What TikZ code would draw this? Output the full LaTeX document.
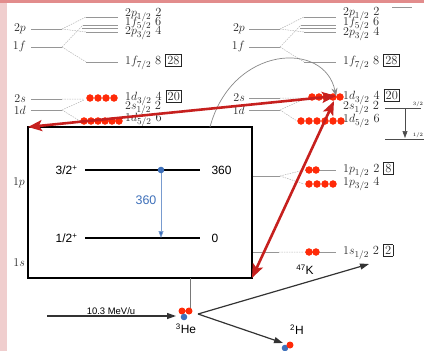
\documentclass[tikz,border=0pt]{standalone}
\usepackage{fontspec}
\setsansfont{Liberation Sans}
\usepackage{tkz-euclide}
\usetikzlibrary{arrows.meta}
\definecolor{pinkframe}{RGB}{240,206,206}
\definecolor{topframe}{RGB}{226,140,140}
\definecolor{protonred}{RGB}{255,42,8}
\definecolor{arrowred}{RGB}{198,32,30}
\definecolor{neutronblue}{RGB}{62,112,186}
\definecolor{levelgray}{RGB}{150,150,150}
\setlength\fboxsep{1.5pt}
\setlength\fboxrule{.5pt}

\begin{document}
\begin{tikzpicture}[x=1bp,y=-1bp,
		lvl/.style={levelgray,line width=.8pt},
		spl/.style={levelgray!70,dash pattern=on 1.5pt off 1pt,line width=.5pt},
		shl/.style={font=\fontsize{12.5}{12}\selectfont,text=black!85,inner sep=0pt},
		big/.style={arrowred,line width=2.6pt,{Stealth[length=14pt,width=11pt,inset=3pt]}-{Stealth[length=14pt,width=11pt,inset=3pt]}},
		rct/.style={black!80,line width=1.2pt,-{Triangle[length=9pt,width=6pt]}}]
	\useasboundingbox (0,0) rectangle (424,351);
	\fill[pinkframe] (0,0) rectangle (7,351);
	\fill[topframe] (0,0) rectangle (424,3);
	
	% left shell scheme
		\node[shl,anchor=east] (n2pL) at (26,29) {$2p$};
		\node[shl,anchor=east] (n1fL) at (26,47) {$1f$};
		\node[shl,anchor=east] (n2sL) at (26,99) {$2s$};
		\node[shl,anchor=east] (n1dL) at (26,110) {$1d$};
		\draw[lvl] (31,29) -- (62,29) (31,47) -- (62,47) (31,99) -- (62,99) (31,110) -- (62,110);
		\draw[spl] (62,29) -- (86,17) (62,29) -- (86,32) (62,47) -- (83,25) (62,47) -- (86,62)
			(62,99) -- (84,99) (62,110) -- (84,100) (62,110) -- (80,121);
		\draw[lvl] (86,17) -- (118,17) (83,25) -- (118,25) (82,28) -- (118,28) (86,32) -- (118,32) (86,62) -- (118,62);
		\node[shl,anchor=west] (p12L) at (125,15) {$2p_{1/2}$ 2};
		\node[shl,anchor=west] (f52L) at (125,24) {$1f_{5/2}$ 6};
		\node[shl,anchor=west] (p32L) at (125,33) {$2p_{3/2}$ 4};
		\node[shl,anchor=west] (f72L) at (125,62) {$1f_{7/2}$ 8 \fbox{28}};
		\node[shl,anchor=west] (d32L) at (125,98) {$1d_{3/2}$ 4 \fbox{20}};
		\node[shl,anchor=west] (s12L) at (125,108) {$2s_{1/2}$ 2};
		\node[shl,anchor=west] (d52L) at (125,120) {$1d_{5/2}$ 6};
		\tkzDefPoints{90/98/a1,98/98/a2,106/98/a3,114/98/a4}
		\tkzDefPoints{84/121/b1,91/121/b2,98/121/b3,105/121/b4,112/121/b5,119/121/b6}
	%	\tkzDrawPoints[color=black,size=2pt](a1,b1)
		\tkzDrawPoints[color=protonred,fill=protonred,size=7pt](a1,a2,a3,a4,b1,b2,b3,b4,b5,b6)
	
	% the box with the 47K levels
		\tkzDefPoints{28/127/B1,252/127/B2,252/278/B3,28/278/B4}
		\tkzFillPolygon[draw=black,fill=white,line width=2.2pt](B1,B2,B3,B4)
		\node[shl,anchor=east] (n1pL) at (25,183) {$1p$};
		\node[shl,anchor=east] (n1sL) at (25,263) {$1s$};
		\node[font=\sffamily\fontsize{12}{12}\selectfont,anchor=east] (j32) at (81,170) {3/2\textsuperscript{+}};
		\node[font=\sffamily\fontsize{12}{12}\selectfont,anchor=east] (j12) at (81,238) {1/2\textsuperscript{+}};
		\node[font=\sffamily\fontsize{12}{12}\selectfont,anchor=west] (e360) at (208,170) {360};
		\node[font=\sffamily\fontsize{12}{12}\selectfont,anchor=west] (e0) at (208,238) {0};
		\draw[black,line width=2pt] (j32.east) ++(4,0) -- (200,170);
		\draw[black,line width=2pt] (j12.east) ++(4,0) -- (200,238);
		\tkzDefPoints{161/170/G1,161/238/G0}
		\draw[neutronblue!70,line width=.6pt,-{Triangle[length=7pt,width=5pt,fill=neutronblue]}] (G1) -- (G0);
		\fill[neutronblue] (G1) circle (3.3);
		\node[font=\sffamily\fontsize{12.5}{12}\selectfont,text=neutronblue] (g360) at (146,200) {360};
	
	% right shell scheme
		\node[shl,anchor=east] (n2pR) at (245,29) {$2p$};
		\node[shl,anchor=east] (n1fR) at (245,47) {$1f$};
		\node[shl,anchor=east] (n2sR) at (245,98) {$2s$};
		\node[shl,anchor=east] (n1dR) at (245,110) {$1d$};
		\draw[lvl] (249,29) -- (280,29) (249,47) -- (280,47) (249,98) -- (280,98) (249,110) -- (280,110)
			(253,176) -- (280,176) (253,252) -- (279,252);
		\draw[spl] (280,29) -- (304,17) (280,29) -- (304,32) (280,47) -- (301,25) (280,47) -- (304,62)
			(280,98) -- (303,98) (280,110) -- (302,100) (280,110) -- (297,121)
			(280,176) -- (304,170) (280,176) -- (304,184) (279,252) -- (304,252);
		\draw[lvl] (304,17) -- (336,17) (301,25) -- (336,25) (300,28) -- (336,28) (304,32) -- (336,32) (304,62) -- (336,62)
			(305,170) -- (336,170) (305,252) -- (336,252) (392,7) -- (412,7);
		\node[shl,anchor=west] (p12R) at (343,14) {$2p_{1/2}$ 2};
		\node[shl,anchor=west] (f52R) at (343,24) {$1f_{5/2}$ 6};
		\node[shl,anchor=west] (p32R) at (343,34) {$2p_{3/2}$ 4};
		\node[shl,anchor=west] (f72R) at (343,62) {$1f_{7/2}$ 8 \fbox{28}};
		\node[shl,anchor=west] (d32R) at (343,97) {$1d_{3/2}$ 4 \fbox{20}};
		\node[shl,anchor=west] (s12R) at (343,108) {$2s_{1/2}$ 2};
		\node[shl,anchor=west] (d52R) at (343,121) {$1d_{5/2}$ 6};
		\node[shl,anchor=west] (q12R) at (343,170) {$1p_{1/2}$ 2 \fbox{8}};
		\node[shl,anchor=west] (q32R) at (343,184) {$1p_{3/2}$ 4};
		\node[shl,anchor=west] (r12R) at (343,252) {$1s_{1/2}$ 2 \fbox{2}};
		\tkzDefPoints{312/97/c1,319/97/c2,326/97/c3,333/97/c4,340/97/c5}
		\tkzDefPoints{301/121/e1,309/121/e2,317/121/e3,325/121/e4,333/121/e5,341/121/e6}
		\tkzDefPoints{309/170/f1,316/170/f2,309/184/g1,317/184/g2,325/184/g3,333/184/g4,309/252/h1,316/252/h2}
	%	\tkzDrawPoints[color=black,size=2pt](c5)
		\tkzDrawPoints[color=protonred,fill=protonred,size=7pt](c1,c2,c3,c4,c5,e1,e2,e3,e4,e5,e6,f1,f2,g1,g2,g3,g4,h1,h2)
	
	% 3/2 -> 1/2 on the right
		\tkzDefPoints{405/108/S3,405/138/S1}
		\draw[black!70,line width=.6pt] (385,108) -- (421,108) (385,139) -- (424,139);
		\draw[black!70,line width=.6pt,-{Triangle[length=7pt,width=5pt]}] (S3) -- (S1);
		\node[font=\fontsize{5}{5}\selectfont,inner sep=0pt] (t32) at (418,104) {$3/2$};
		\node[font=\fontsize{5}{5}\selectfont,inner sep=0pt] (t12) at (418,135) {$1/2$};
	
	% the reaction
		\tkzDefPoints{47/316/Beam,190/278/Top,185/314/He,198/314/V,369/264/K,283/343/H}
		\draw[levelgray!80!black,line width=.7pt] (Top) -- (190,309);
		\draw[rct] (Beam) -- (176,316);
		\node[font=\sffamily\fontsize{9.5}{8}\selectfont,anchor=south,inner sep=1pt] (en) at (111,316) {10.3 MeV/u};
		\draw[rct] (V) -- (K);
		\draw[rct] (V) -- (H);
		\fill[protonred] (182,311) circle (3.5) (189,311) circle (3.5);
		\fill[neutronblue] (184,317) circle (3.3);
		\fill[neutronblue] (285,348) circle (3.3);
		\fill[protonred] (290,345) circle (3.5);
		\node[font=\sffamily\fontsize{12}{12}\selectfont] (lHe) at (186,329) {\textsuperscript{3}He};
		\node[font=\sffamily\fontsize{12}{12}\selectfont] (lK) at (305,270) {\textsuperscript{47}K};
		\node[font=\sffamily\fontsize{12}{12}\selectfont] (lH) at (297,330) {\textsuperscript{2}H};
	
	% transfer arrows
		\tkzDefPoints{336/96/T1,334/101/T2}
		\draw[levelgray!90!black,line width=.7pt,-{Stealth[length=8pt,width=6pt]}] (210,127) .. controls (232,45) and (325,40) .. (T1);
		\draw[big] (B1) -- (T1);
		\draw[big] (B3) -- (T2);
\end{tikzpicture}
\end{document}
